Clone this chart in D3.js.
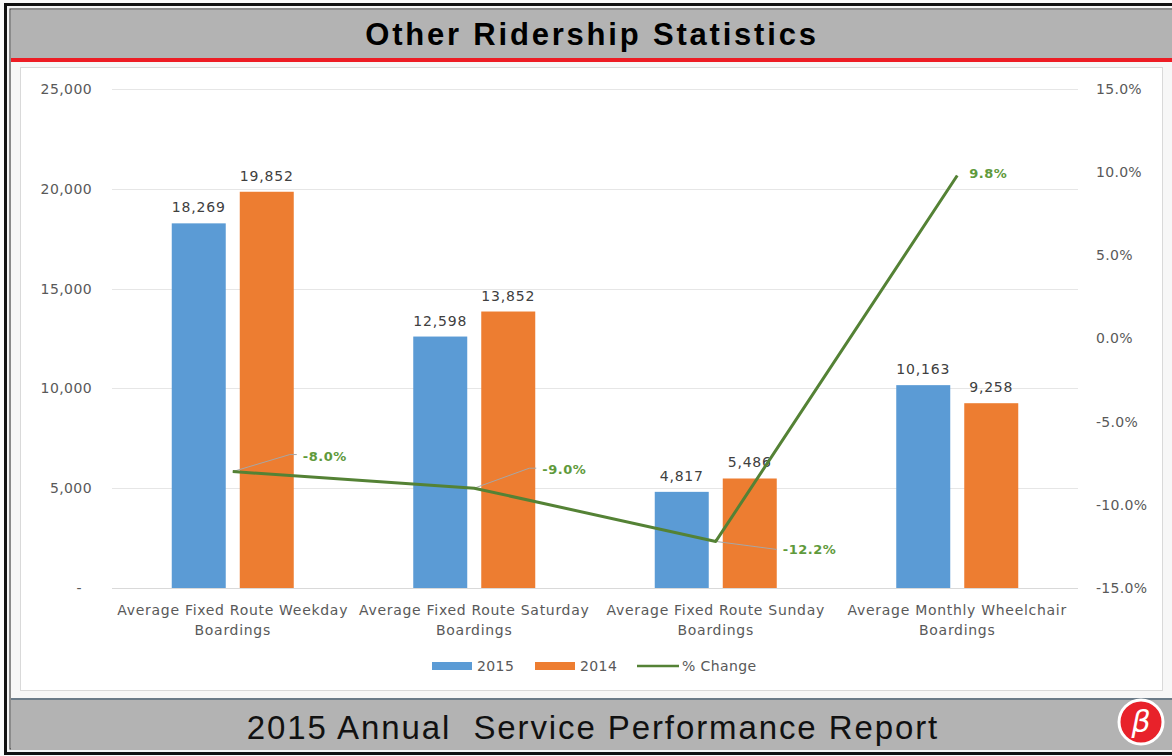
<!DOCTYPE html>
<html>
<head>
<meta charset="utf-8">
<script src="https://cdn.jsdelivr.net/npm/d3@7"></script>
<style>
  html, body { margin: 0; padding: 0; background: #fff; }
  svg { display: block; }
</style>
</head>
<body>
<div id="chart"></div>
<script>
// chart values
const categories = [
  ['Average Fixed Route Weekday', 'Boardings'],
  ['Average Fixed Route Saturday', 'Boardings'],
  ['Average Fixed Route Sunday', 'Boardings'],
  ['Average Monthly Wheelchair', 'Boardings']
];
const seriesNames = ['2015', '2014'];
const values2015 = [18269, 12598, 4817, 10163];
const values2014 = [19852, 13852, 5486, 9258];
const pctChange = [-0.080, -0.090, -0.122, 0.098];
const leftTicks = [0, 5000, 10000, 15000, 20000, 25000];
const rightTicks = [-0.15, -0.10, -0.05, 0, 0.05, 0.10, 0.15];

const width = 1172;
const height = 756;
const margin = { top: 89, right: 94, bottom: 168, left: 112 };
const colors = { '2015': '#5b9bd5', '2014': '#ed7d31', line: '#548235', pct: '#5f9a3c' };
const labelFont = "'DejaVu Sans', sans-serif";
const textGray = '#595959';

// plain hyphen for negatives, like the source
const locale = d3.formatLocale({ decimal: '.', thousands: ',', grouping: [3], currency: ['$', ''], minus: '-' });
const fmtNum = locale.format(',');
const fmtPct = locale.format('.1%');

const svg = d3.select('#chart').append('svg')
  .attr('width', width)
  .attr('height', height);

// frame, header and footer bands
svg.append('rect').attr('x', 0).attr('y', 0).attr('width', width).attr('height', height).attr('fill', '#fafafa');
svg.append('rect').attr('x', 5.5).attr('y', 4.5).attr('width', width + 10).attr('height', 749)
  .attr('fill', '#f4f4f4').attr('stroke', '#111').attr('stroke-width', 3);
svg.append('rect').attr('x', 10).attr('y', 9).attr('width', width + 10).attr('height', 740)
  .attr('fill', '#f7f7f7').attr('stroke', '#444').attr('stroke-width', 1.2);
svg.append('rect').attr('x', 11).attr('y', 10).attr('width', width).attr('height', 48).attr('fill', '#b3b3b3');
svg.append('rect').attr('x', 11).attr('y', 58).attr('width', width).attr('height', 4).attr('fill', '#ed1c24');
svg.append('rect').attr('x', 20.5).attr('y', 67.5).attr('width', 1142).attr('height', 623)
  .attr('fill', '#fff').attr('stroke', '#d9d9d9');
svg.append('rect').attr('x', 11).attr('y', 698).attr('width', width).attr('height', 2).attr('fill', '#6b7b88');
svg.append('rect').attr('x', 11).attr('y', 700).attr('width', width).attr('height', 50).attr('fill', '#b3b3b3');

svg.append('text')
  .attr('x', 592).attr('y', 45)
  .attr('text-anchor', 'middle')
  .style('font-family', "'Liberation Sans', Arial, sans-serif")
  .style('font-weight', 'bold')
  .style('font-size', '31px')
  .style('letter-spacing', '2.8px')
  .attr('fill', '#000')
  .text('Other Ridership Statistics');

svg.append('text')
  .attr('x', 593).attr('y', 739)
  .attr('text-anchor', 'middle')
  .style('font-family', "'Liberation Sans', Arial, sans-serif")
  .style('font-size', '33px')
  .style('letter-spacing', '1.9px')
  .style('white-space', 'pre')
  .attr('fill', '#111')
  .text('2015 Annual  Service Performance Report');

// logo
const logo = svg.append('g').attr('transform', 'translate(1141,722)');
logo.append('circle').attr('r', 22).attr('fill', '#e8222a').attr('stroke', '#fff').attr('stroke-width', 3);
logo.append('text')
  .attr('y', 10)
  .attr('text-anchor', 'middle')
  .style('font-family', "'DejaVu Sans', sans-serif")
  .style('font-style', 'italic')
  .style('font-size', '30px')
  .attr('fill', '#fff')
  .text('β');

// scales
const x0 = d3.scaleBand()
  .domain(d3.range(categories.length))
  .range([margin.left, width - margin.right]);

const groupW = 122;
const x1 = d3.scaleBand()
  .domain(seriesNames)
  .range([(x0.bandwidth() - groupW) / 2, (x0.bandwidth() + groupW) / 2])
  .paddingInner(0.206);

const yL = d3.scaleLinear().domain([0, 25000]).range([height - margin.bottom, margin.top]);
const yR = d3.scaleLinear().domain([-0.15, 0.15]).range([height - margin.bottom, margin.top]);

// gridlines
svg.append('g')
  .selectAll('line')
  .data(leftTicks)
  .enter()
  .append('line')
  .attr('x1', margin.left)
  .attr('x2', width - margin.right)
  .attr('y1', (d) => Math.round(yL(d)) + 0.5)
  .attr('y2', (d) => Math.round(yL(d)) + 0.5)
  .attr('stroke', (d) => (d === 0 ? '#d9d9d9' : '#e6e6e6'))
  .attr('stroke-width', 1.2);

// left axis
const fmtL = (d) => (d === 0 ? '-' : fmtNum(d));
const leftAxis = svg.append('g')
  .attr('transform', `translate(${margin.left - 20},0)`)
  .call(d3.axisLeft(yL).tickValues(leftTicks).tickFormat(fmtL).tickSize(0).tickPadding(0));
leftAxis.select('.domain').remove();
leftAxis.selectAll('text')
  .attr('dx', (d) => (d === 0 ? -10 : 0))
  .style('font-family', labelFont)
  .style('font-size', '14px')
  .style('letter-spacing', '0.4px')
  .attr('fill', textGray);

// right axis
const rightAxis = svg.append('g')
  .attr('transform', `translate(${width - margin.right + 18},0)`)
  .call(d3.axisRight(yR).tickValues(rightTicks).tickFormat(fmtPct).tickSize(0).tickPadding(0));
rightAxis.select('.domain').remove();
rightAxis.selectAll('text')
  .style('font-family', labelFont)
  .style('font-size', '14px')
  .style('letter-spacing', '0.3px')
  .attr('fill', textGray);

// bars
const barData = [];
categories.forEach((c, i) => {
  barData.push({ i, key: '2015', value: values2015[i] });
  barData.push({ i, key: '2014', value: values2014[i] });
});

svg.append('g')
  .selectAll('rect')
  .data(barData)
  .enter()
  .append('rect')
  .attr('x', (d) => x0(d.i) + x1(d.key))
  .attr('y', (d) => yL(d.value))
  .attr('width', x1.bandwidth())
  .attr('height', (d) => yL(0) - yL(d.value))
  .attr('fill', (d) => colors[d.key]);

svg.append('g')
  .selectAll('text')
  .data(barData)
  .enter()
  .append('text')
  .attr('x', (d) => x0(d.i) + x1(d.key) + x1.bandwidth() / 2)
  .attr('y', (d) => yL(d.value) - 11)
  .attr('text-anchor', 'middle')
  .style('font-family', labelFont)
  .style('font-size', '14px')
  .style('letter-spacing', '0.8px')
  .attr('fill', '#404040')
  .text((d) => fmtNum(d.value));

// category labels
const catG = svg.append('g');
categories.forEach((lines, i) => {
  const t = catG.append('text')
    .attr('text-anchor', 'middle')
    .style('font-family', labelFont)
    .style('font-size', '14px')
    .style('letter-spacing', '0.7px')
    .attr('fill', textGray);
  lines.forEach((ln, k) => {
    t.append('tspan')
      .attr('x', x0(i) + x0.bandwidth() / 2)
      .attr('y', 615 + k * 20)
      .text(ln);
  });
});

// % change line
const cx = (i) => x0(i) + x0.bandwidth() / 2;
const line = d3.line()
  .x((d, i) => cx(i))
  .y((d) => yR(d));

// leader lines + labels (label offsets from point)
const labelOffsets = [
  { dx: 70, dy: -16, leader: [[57, -17], [64, -17]] },
  { dx: 68, dy: -19, leader: [[55, -20], [62, -20]] },
  { dx: 67, dy: 8, leader: [[61, 8]] },
  { dx: 12, dy: -2, leader: null }
];

const leaders = svg.append('g');
pctChange.forEach((v, i) => {
  const o = labelOffsets[i];
  if (!o.leader) return;
  const pts = [[cx(i), yR(v)], ...o.leader.map((p) => [cx(i) + p[0], yR(v) + p[1]])];
  leaders.append('path')
    .attr('d', d3.line()(pts))
    .attr('fill', 'none')
    .attr('stroke', '#a6a6a6')
    .attr('stroke-width', 1);
});

svg.append('path')
  .datum(pctChange)
  .attr('d', line)
  .attr('fill', 'none')
  .attr('stroke', colors.line)
  .attr('stroke-width', 3)
  .attr('stroke-linejoin', 'round');

svg.append('g')
  .selectAll('text')
  .data(pctChange)
  .enter()
  .append('text')
  .attr('x', (d, i) => cx(i) + labelOffsets[i].dx)
  .attr('y', (d, i) => yR(d) + labelOffsets[i].dy + 5)
  .style('font-family', labelFont)
  .style('font-size', '13px')
  .style('font-weight', 'bold')
  .style('letter-spacing', '0.5px')
  .attr('fill', colors.pct)
  .text((d) => fmtPct(d));

// legend
const legendItems = [
  { name: '2015', type: 'rect', color: colors['2015'], x: 432 },
  { name: '2014', type: 'rect', color: colors['2014'], x: 535 },
  { name: '% Change', type: 'line', color: colors.line, x: 637 }
];
const legend = svg.append('g').attr('transform', 'translate(0,666)');
legendItems.forEach((it) => {
  if (it.type === 'rect') {
    legend.append('rect').attr('x', it.x).attr('y', -4).attr('width', 40).attr('height', 8).attr('fill', it.color);
  } else {
    legend.append('line').attr('x1', it.x).attr('x2', it.x + 42).attr('y1', 0).attr('y2', 0)
      .attr('stroke', it.color).attr('stroke-width', 2.5);
  }
  legend.append('text')
    .attr('x', it.x + 45)
    .attr('y', 5)
    .style('font-family', labelFont)
    .style('font-size', '14px')
    .style('letter-spacing', '0.4px')
    .attr('fill', textGray)
    .text(it.name);
});
</script>
</body>
</html>
